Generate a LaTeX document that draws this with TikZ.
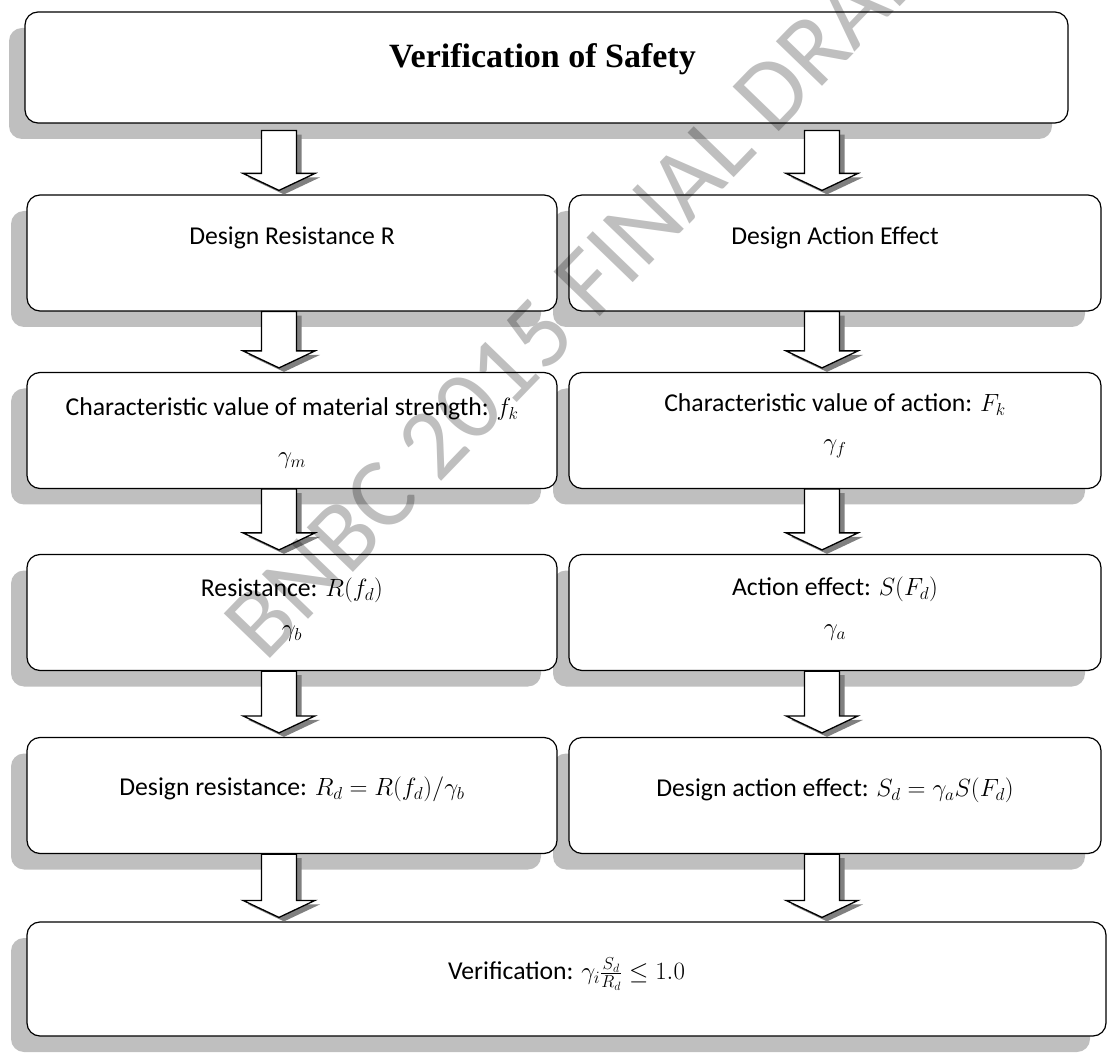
\documentclass[tikz,border=0pt]{standalone}
\usepackage[no-math]{fontspec}
\setmainfont{Carlito}
\newfontfamily\titlefont{Liberation Serif}
\usepackage{tikz}
\usetikzlibrary{calc,shadows}

% block arrow from one box down to the next, along a column coordinate
\newcommand\fatarrow[4][0pt]{%
  \path[arrowshade] let \p1=(#2 |- #3.south), \p2=(#2 |- #4.north) in
    (\x1-12.5pt,\y1-#1-4pt) -- (\x1+22.5pt,\y1-#1-4pt) -- (\x1+22.5pt,\y2+17pt) -- (\x1+41pt,\y2+17pt)
    -- (\x1+5pt,\y2) -- (\x1-31pt,\y2+17pt) -- (\x1-12.5pt,\y2+17pt) -- cycle;
  \path[arrowbody] let \p1=(#2 |- #3.south), \p2=(#2 |- #4.north) in
    (\x1-17.5pt,\y1-#1) -- (\x1+17.5pt,\y1-#1) -- (\x1+17.5pt,\y2+21pt) -- (\x1+36pt,\y2+21pt)
    -- (\x1,\y2+4pt) -- (\x1-36pt,\y2+21pt) -- (\x1-17.5pt,\y2+21pt) -- cycle;
}

\begin{document}
\begin{tikzpicture}[x=1pt,y=-1pt,
  stepbox/.style={draw,line width=1.2pt,rounded corners=13pt,fill=white,inner sep=0pt,
    drop shadow={shadow xshift=-16pt,shadow yshift=-16pt,fill=black!25,opacity=1}},
  lbox/.style={stepbox,minimum width=530pt,minimum height=116pt},
  rbox/.style={stepbox,minimum width=532pt,minimum height=116pt},
  lbl/.style={anchor=base,inner sep=0pt,font=\fontsize{25.7}{31}\selectfont},
  arrowbody/.style={draw,fill=white,line width=1.3pt,line join=miter},
  arrowshade/.style={fill=black!50},
  wmark/.style={rotate=46,inner sep=0pt,text=black,text opacity=0.25,font=\fontsize{100}{100}\selectfont}]
\useasboundingbox (0,0) rectangle (1112,1056);
\clip (0,0) rectangle (1112,1056);

% boxes (right column first, so the left boxes sit over its shadows)
\node[stepbox,minimum width=1043pt,minimum height=111pt] (safety) at (546.5,67.5) {};
\node[rbox] (desS) at (835,253) {};
\node[rbox] (chrS) at (835,430.5) {};
\node[rbox] (effS) at (835,612.5) {};
\node[rbox] (dsgS) at (835,795.5) {};
\node[lbox] (desR) at (292,253) {};
\node[lbox] (chrR) at (292,430.5) {};
\node[lbox] (resR) at (292,612.5) {};
\node[lbox] (dsgR) at (292,795.5) {};
\node[stepbox,minimum width=1079pt,minimum height=114pt] (verif) at (566.5,979) {};

% columns of the arrows
\coordinate (cl) at (279,0);
\coordinate (cr) at (822,0);

\fatarrow[7pt]{cl}{safety}{desR}
\fatarrow[7pt]{cr}{safety}{desS}
\fatarrow{cl}{desR}{chrR}
\fatarrow{cr}{desS}{chrS}
\fatarrow{cl}{chrR}{resR}
\fatarrow{cr}{chrS}{effS}
\fatarrow{cl}{resR}{dsgR}
\fatarrow{cr}{effS}{dsgS}
\fatarrow{cl}{dsgR}{verif}
\fatarrow{cr}{dsgS}{verif}

% texts
\node[lbl,font=\fontsize{34}{40}\selectfont\titlefont\bfseries] (tSafety) at ([xshift=-4pt,yshift=-56pt]safety.north) {Verification of Safety};
\node[lbl] (tDesR) at ([yshift=-50pt]desR.north) {Design Resistance R};
\node[lbl] (tDesS) at ([yshift=-50pt]desS.north) {Design Action Effect};
\node[lbl] (tChrR) at ([yshift=-44pt]chrR.north) {Characteristic value of material strength: $f_k$};
\node[lbl] (gChrR) at ([yshift=-92pt]chrR.north) {$\gamma_m$};
\node[lbl] (tChrS) at ([yshift=-40pt]chrS.north) {Characteristic value of action: $F_k$};
\node[lbl] (gChrS) at ([yshift=-79pt]chrS.north) {$\gamma_f$};
\node[lbl] (tResR) at ([yshift=-43pt]resR.north) {Resistance: $R(f_d)$};
\node[lbl] (gResR) at ([yshift=-83pt]resR.north) {$\gamma_b$};
\node[lbl] (tEffS) at ([yshift=-42pt]effS.north) {Action effect: $S(F_d)$};
\node[lbl] (gEffS) at ([yshift=-82pt]effS.north) {$\gamma_a$};
\node[lbl] (tDsgR) at ([yshift=-59pt]dsgR.north) {Design resistance: $R_d=R(f_d)/\gamma_b$};
\node[lbl] (tDsgS) at ([yshift=-60pt]dsgS.north) {Design action effect: $S_d=\gamma_a S(F_d)$};
\node[lbl] (tVerif) at ([yshift=-58pt]verif.north) {Verification: $\gamma_i\frac{S_d}{R_d}\leq 1.0$};

% watermark
\node[wmark] (wm) at (590,281) {BNBC 2015 FINAL DRAFT};
\end{tikzpicture}
\end{document}
